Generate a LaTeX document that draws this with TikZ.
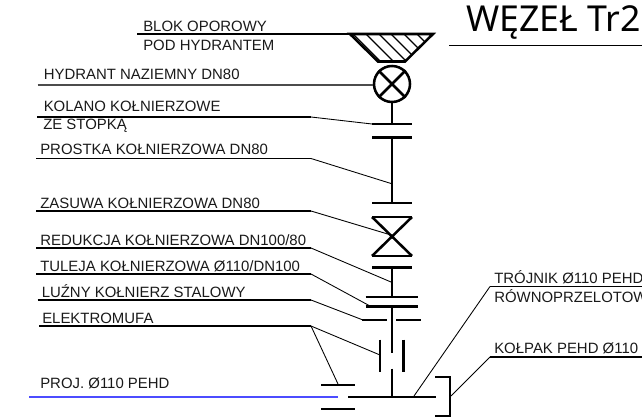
\documentclass[tikz,border=0pt]{standalone}
\usepackage{fontspec}
\setmainfont{Liberation Sans}
\newfontfamily\titlefont{Noto Sans}
\begin{document}
\begin{tikzpicture}[x=0.75pt,y=-0.75pt,
		pipe/.style={line width=1.9pt},
		leader/.style={line width=0.65pt},
		shelf/.style={line width=1pt},
		label/.style={anchor=base west,inner sep=0pt,font=\fontsize{11.2}{13}\selectfont,text=black!90}]
	\useasboundingbox (0,0) rectangle (642,417);
	% title
	\node[anchor=base west,inner sep=0pt,font=\titlefont\fontsize{26.8}{30}\selectfont] (title) at (466,32) {WĘZEŁ Tr2};
	\coordinate (t1) at (449,45);
	\coordinate (t2) at (642,45);
	\draw[leader] (t1) -- (t2);
	% labels
	\foreach \n/\x/\y/\t in {blok/143/32/BLOK OPOROWY,pod/143/51/POD HYDRANTEM,
			hyd/43.5/80/HYDRANT NAZIEMNY DN80,kol/43.5/112/KOLANO KOŁNIERZOWE,ze/43/130/ZE STOPKĄ,
			pro/40/155/PROSTKA KOŁNIERZOWA DN80,zas/40/208/ZASUWA KOŁNIERZOWA DN80,
			red/40/245/REDUKCJA KOŁNIERZOWA DN100\slash 80,tul/40/271/TULEJA KOŁNIERZOWA Ø110\slash DN100,
			luz/41.5/297/LUŹNY KOŁNIERZ STALOWY,ele/42/323.5/ELEKTROMUFA,proj/40/388.5/PROJ. Ø110 PEHD,
			tro/494/283.5/TRÓJNIK Ø110 PEHD,row/494/302/RÓWNOPRZELOTOW,kop/494/353.5/KOŁPAK PEHD Ø110}{
			\node[label] (\n) at (\x,\y) {\t};
		}
	% block
	\coordinate (b1) at (350,34);
	\coordinate (b2) at (433,34);
	\coordinate (b3) at (405,61.5);
	\coordinate (b4) at (378,61.5);
	\begin{scope}
		\clip (b1) -- (b2) -- (b3) -- (b4) -- cycle;
		\foreach \x in {353,366,379,391,404,417,430}{
				\draw[line width=0.9pt] (\x,34) -- (\x+28,62);
			}
	\end{scope}
	\draw[pipe] (b1) -- (b2) -- (b3) -- (b4) -- cycle;
	% hydrant
	\node[draw,circle,pipe,minimum size=36pt*0.75,inner sep=0pt] (hyd0) at (392,84) {};
	\draw[pipe] (hyd0.45) -- (hyd0.225);
	\draw[pipe] (hyd0.135) -- (hyd0.315);
	% flanges on the riser
	\foreach \n/\xa/\xb/\y in {fa/372/412/124,fb/372/412/137.5,fc/372/412/203,fd/372/412/217,fe/372/412/256,
			ff/372/412/267.5,fg/365.5/418/297,fh/365.5/418/306.5,fi/362/387/320,fj/396/421/320,
			fk/321/355/385,fl/321/355/409,tee/348/436/397}{
			\coordinate (\n l) at (\xa,\y);
			\coordinate (\n r) at (\xb,\y);
			\draw[pipe] (\n l) -- (\n r);
		}
	\coordinate (r0) at (392,124);
	\coordinate (r1) at (392,137.5);
	\coordinate (r2) at (392,203);
	\coordinate (r3) at (392,267.5);
	\coordinate (r4) at (392,297);
	\coordinate (r5) at (392,306.5);
	\coordinate (r6) at (392,352.5);
	\coordinate (r7) at (392,368.5);
	\coordinate (r8) at (392,397);
	\draw[pipe] (hyd0.south) -- (r0);
	\draw[pipe] (r1) -- (r2);
	\draw[pipe] (fdl) -- (fer) (fdr) -- (fel);
	\draw[pipe] (r3) -- (r4);
	\draw[pipe] (r5) -- (r6);
	\draw[pipe] (r7) -- (r8);
	% socket
	\coordinate (m1) at (380,339.5);
	\coordinate (m2) at (380,372);
	\coordinate (m3) at (403.5,339.5);
	\coordinate (m4) at (403.5,372);
	\draw[pipe] (m1) -- (m2);
	\draw[pipe] (m3) -- (m4);
	% cap
	\coordinate (c1) at (435,377);
	\coordinate (c2) at (450,377);
	\coordinate (c3) at (450,416);
	\coordinate (c4) at (435,416);
	\draw[pipe] (c1) -- (c2) -- (c3) -- (c4);
	% left leaders
	\foreach \n/\xa/\ya/\xb/\yb in {kol/37/117/372/124,pro/36/158.5/391/183.5,zas/36/211/391/235,
			red/36/248/391/282,tul/36/274/370/306,luz/37.5/300/363/320,ele/39/326/380/355}{
			\coordinate (\n a) at (\xa,\ya);
			\coordinate (\n b) at (311,\ya);
			\coordinate (\n c) at (\xb,\yb);
			\draw[shelf] (\n a) -- (\n b);
			\draw[leader] (\n b) -- (\n c);
		}
	\coordinate (ele2) at (338,384);
	\draw[leader] (eleb) -- (ele2);
	% top leaders
	\coordinate (la) at (137,34);
	\draw[shelf] (la) -- (b1);
	\coordinate (lb) at (37.5,85);
	\draw[shelf,black!70] (lb) -- (hyd0.west |- lb);
	% right leaders
	\coordinate (tr1) at (414,396);
	\coordinate (tr2) at (490,286.5);
	\coordinate (tr3) at (642,286.5);
	\draw[leader] (tr1) -- (tr2);
	\draw[shelf] (tr2) -- (tr3);
	\coordinate (ko1) at (451,396);
	\coordinate (ko2) at (490,357);
	\coordinate (ko3) at (642,357);
	\draw[leader] (ko1) -- (ko2);
	\draw[shelf] (ko2) -- (ko3);
	% design pipe
	\coordinate (p1) at (29,397);
	\coordinate (p2) at (338,397);
	\draw[line width=0.9pt,blue!70] (p1) -- (p2);
\end{tikzpicture}
\end{document}
